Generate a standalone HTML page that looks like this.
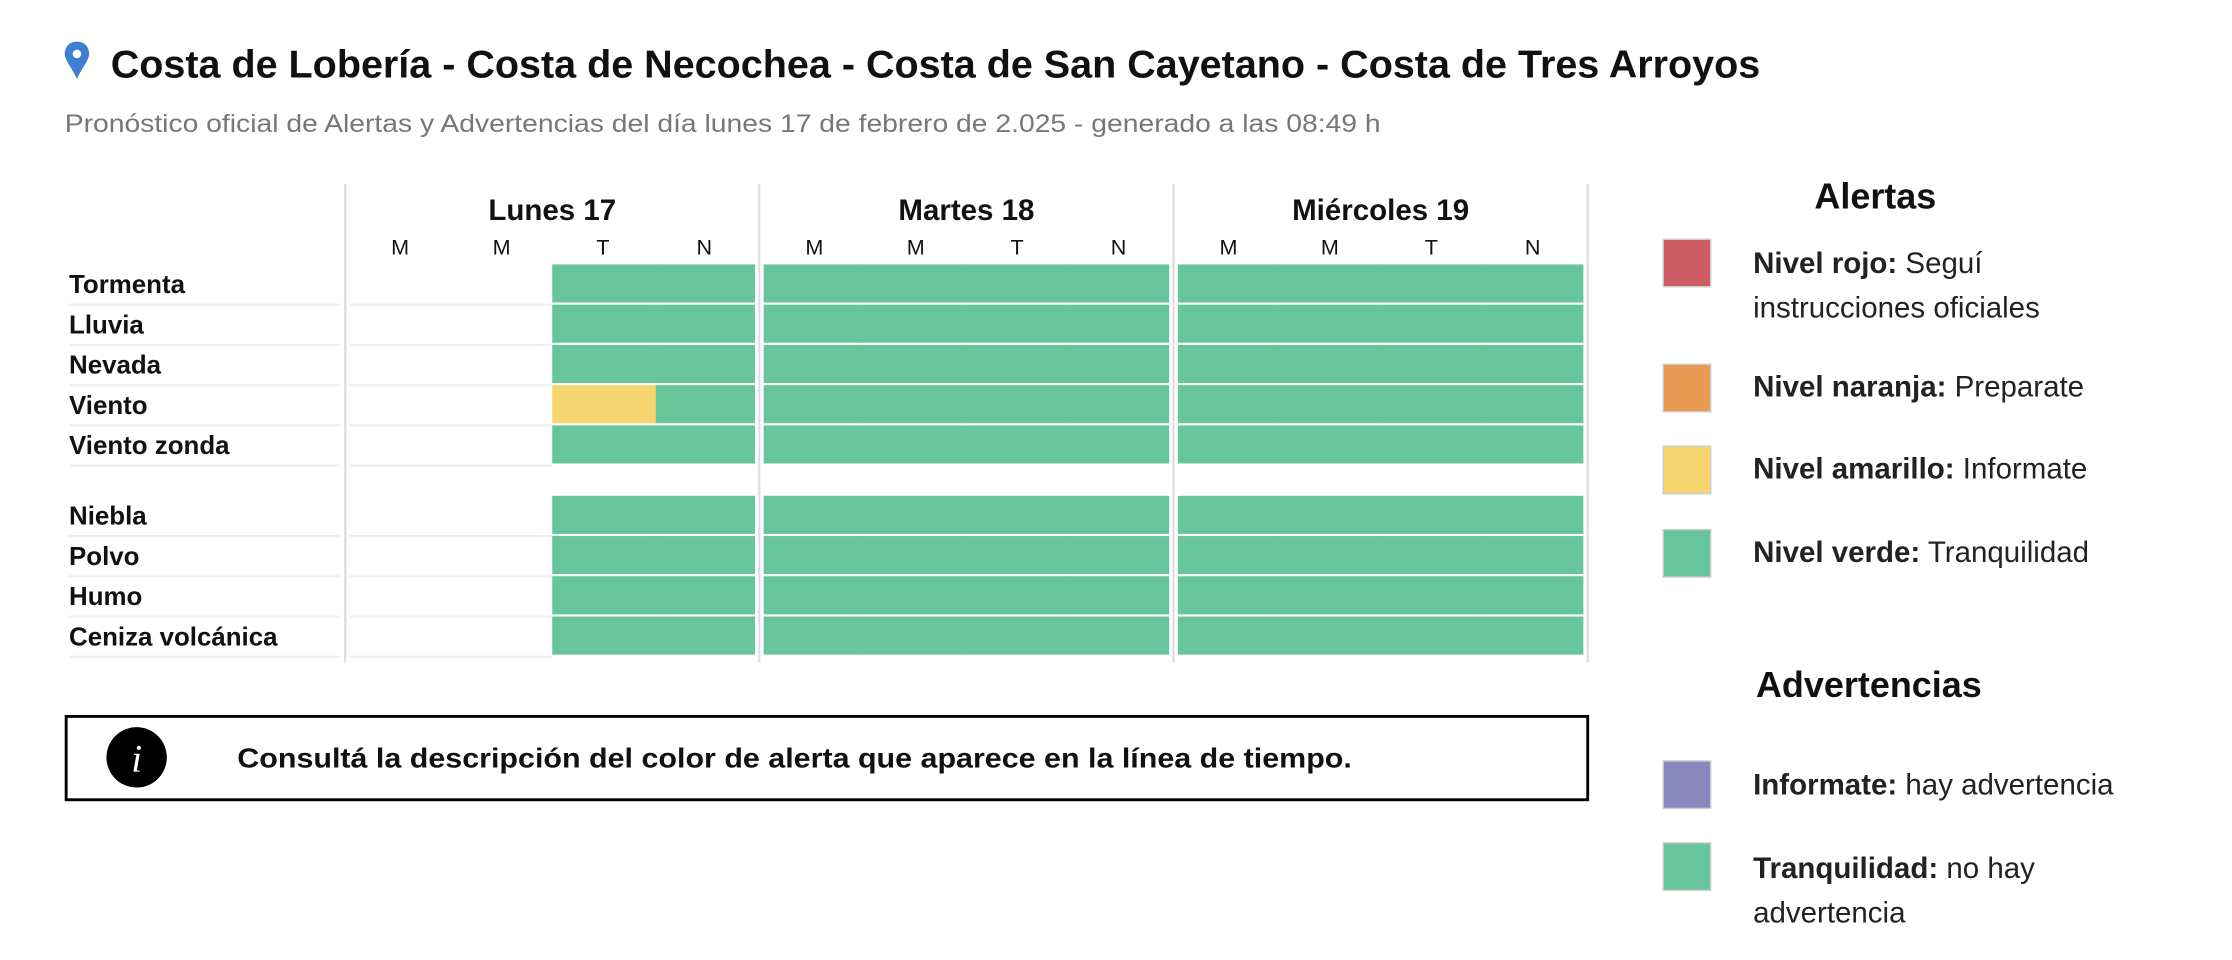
<!DOCTYPE html>
<html><head><meta charset="utf-8">
<style>
html,body{margin:0;padding:0;background:#fff;}
svg{display:block;font-family:"Liberation Sans",sans-serif;}
</style></head>
<body>
<svg id="chart" width="2232" height="960" viewBox="0 0 1552 668" preserveAspectRatio="none">
  <g>
    <path d="M53.5 29 C47.5 29 45 33.5 45 37.5 C45 42 50 47 53.5 55 C57 47 62 42 62 37.5 C62 33.5 59.5 29 53.5 29 Z" fill="#3d7fd0"/>
    <circle cx="53.5" cy="37.5" r="3" fill="#fff"/>
    <text x="77" y="54" font-size="27" font-weight="bold" fill="#111" textLength="1147" lengthAdjust="spacingAndGlyphs">Costa de Lobería - Costa de Necochea - Costa de San Cayetano - Costa de Tres Arroyos</text>
    <text x="45" y="92" font-size="17.5" fill="#777" textLength="915" lengthAdjust="spacingAndGlyphs">Pronóstico oficial de Alertas y Advertencias del día lunes 17 de febrero de 2.025 - generado a las 08:49 h</text>
  </g>
  <g id="grid"></g>
  <g>
    <rect x="46" y="498.5" width="1058" height="58" fill="#fff" stroke="#000" stroke-width="2"/>
    <circle cx="95" cy="527" r="21" fill="#000"/>
    <text x="95" y="537" font-size="27" font-style="italic" font-family="Liberation Serif,serif" fill="#fff" text-anchor="middle">i</text>
    <text x="165" y="534" font-size="19" font-weight="bold" fill="#111" textLength="775" lengthAdjust="spacingAndGlyphs">Consultá la descripción del color de alerta que aparece en la línea de tiempo.</text>
  </g>
  <g id="legend">
    <text x="1304" y="145" font-size="25" font-weight="bold" fill="#111" text-anchor="middle">Alertas</text>
    <rect x="1156.5" y="166.5" width="33" height="33" fill="#cd5c63" stroke="#ccc"/>
    <text x="1219" y="190" font-size="20.5" fill="#222"><tspan font-weight="bold">Nivel rojo:</tspan> Seguí</text>
    <text x="1219" y="221" font-size="20.5" fill="#222">instrucciones oficiales</text>
    <rect x="1156.5" y="253.5" width="33" height="33" fill="#e89a52" stroke="#ccc"/>
    <text x="1219" y="276" font-size="20.5" fill="#222"><tspan font-weight="bold">Nivel naranja:</tspan> Preparate</text>
    <rect x="1156.5" y="310.5" width="33" height="33" fill="#f6d46e" stroke="#ccc"/>
    <text x="1219" y="333" font-size="20.5" fill="#222"><tspan font-weight="bold">Nivel amarillo:</tspan> Informate</text>
    <rect x="1156.5" y="368.5" width="33" height="33" fill="#66c59a" stroke="#ccc"/>
    <text x="1219" y="391" font-size="20.5" fill="#222"><tspan font-weight="bold">Nivel verde:</tspan> Tranquilidad</text>
    <text x="1221" y="485" font-size="25" font-weight="bold" fill="#111">Advertencias</text>
    <rect x="1156.5" y="529.5" width="33" height="33" fill="#8a87bf" stroke="#ccc"/>
    <text x="1219" y="553" font-size="20.5" fill="#222"><tspan font-weight="bold">Informate:</tspan> hay advertencia</text>
    <rect x="1156.5" y="586.5" width="33" height="33" fill="#66c59a" stroke="#ccc"/>
    <text x="1219" y="611" font-size="20.5" fill="#222"><tspan font-weight="bold">Tranquilidad:</tspan> no hay</text>
    <text x="1219" y="642" font-size="20.5" fill="#222">advertencia</text>
  </g>
</svg>
<script>
const days = ["Lunes 17", "Martes 18", "Miércoles 19"];
const periods = ["M", "M", "T", "N"];
const rowsTop = ["Tormenta", "Lluvia", "Nevada", "Viento", "Viento zonda"];
const rowsBottom = ["Niebla", "Polvo", "Humo", "Ceniza volcánica"];
// levels per row: 12 periods (3 days x 4); "" = no data, "v" verde, "a" amarillo
const levelsTormenta = ["", "", "v","v", "v","v","v","v", "v","v","v","v"];
const levelsLluvia   = ["", "", "v","v", "v","v","v","v", "v","v","v","v"];
const levelsNevada   = ["", "", "v","v", "v","v","v","v", "v","v","v","v"];
const levelsViento   = ["", "", "a","v", "v","v","v","v", "v","v","v","v"];
const levelsZonda    = ["", "", "v","v", "v","v","v","v", "v","v","v","v"];
const levelsNiebla   = ["", "", "v","v", "v","v","v","v", "v","v","v","v"];
const levelsPolvo    = ["", "", "v","v", "v","v","v","v", "v","v","v","v"];
const levelsHumo     = ["", "", "v","v", "v","v","v","v", "v","v","v","v"];
const levelsCeniza   = ["", "", "v","v", "v","v","v","v", "v","v","v","v"];

(function(){
  const NS = "http://www.w3.org/2000/svg";
  const g = document.getElementById("grid");
  const colors = {v:"#66c59a", a:"#f6d46e", n:"#e89a52", r:"#cd5c63"};
  const dayX0 = 240, dayW = 288, gridTop = 128, gridBottom = 461;
  const periodW = dayW / 4;
  function mk(tag, attrs){ const e = document.createElementNS(NS, tag); for (const k in attrs) e.setAttribute(k, attrs[k]); g.appendChild(e); return e; }
  function xDay(d){ return dayX0 + d * dayW; }
  function xPeriod(i){ const d = Math.floor(i/4), p = i % 4; return xDay(d) + p * periodW; }
  for (let d = 0; d <= days.length; d++) {
    const l = mk("line", {x1:xDay(d), x2:xDay(d), y1:gridTop, y2:gridBottom, stroke:"#ddd", "stroke-width":1.5});
    
    
  }
  days.forEach((dname, d) => {
    const t = mk("text", {x: xDay(d) + dayW/2, y:153, "font-size":20.5, "font-weight":"bold", fill:"#111", "text-anchor":"middle"});
    t.textContent = dname;
    
    
    periods.forEach((p, i) => {
      const pt = mk("text", {x: xDay(d) + 3 + (i+0.5)*(dayW-6)/4 , y:177, "font-size":15, fill:"#111", "text-anchor":"middle"});
      pt.textContent = p;
      
      
    });
  });
  const rows = [
    [rowsTop[0], levelsTormenta], [rowsTop[1], levelsLluvia], [rowsTop[2], levelsNevada],
    [rowsTop[3], levelsViento], [rowsTop[4], levelsZonda],
    [rowsBottom[0], levelsNiebla], [rowsBottom[1], levelsPolvo], [rowsBottom[2], levelsHumo], [rowsBottom[3], levelsCeniza]
  ];
  function rowY(r){ return r < 5 ? 184 + r*28 : 345 + (r-5)*28; }
  rows.forEach((row, r) => {
    const y = rowY(r);
    const lab = mk("text", {x:48, y:y+20, "font-size":18, "font-weight":"bold", fill:"#111"});
    lab.textContent = row[0];
    
    
    const ul = mk("line", {x1:48, x2:236, y1:y+28, y2:y+28, stroke:"#eee", "stroke-width":1.5});
    
    
    const ul2 = mk("line", {x1:243, x2:xPeriod(2), y1:y+28, y2:y+28, stroke:"#eee", "stroke-width":1.5});
    
    
    row[1].forEach((lv, i) => {
      if (!lv) return;
      const d = Math.floor(i/4), p = i % 4;
      let x0 = xPeriod(i), x1 = x0 + periodW + 0.5;
      if (p === 0) x0 = xDay(d) + 3;
      if (p === 3) x1 = xDay(d+1) - 3;
      const c = mk("rect", {x:x0, y:y, width:x1-x0, height:26.5, fill:colors[lv]});
      
      
    });
  });
})();
</script>
</body></html>
